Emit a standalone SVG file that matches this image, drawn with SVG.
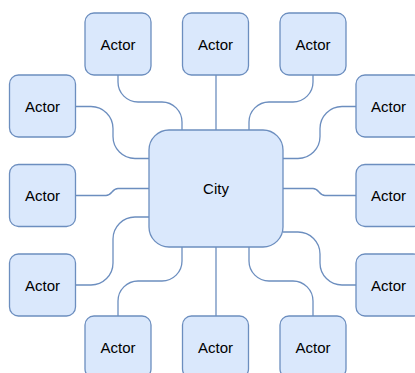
<svg xmlns="http://www.w3.org/2000/svg" width="415" height="373" viewBox="0 0 415 373">
<style>
.n{fill:#dae8fc;stroke:#6c8ebf;stroke-width:1.3}
.e{fill:none;stroke:#6c8ebf;stroke-width:1.3}
.t{font-family:"Liberation Sans",Arial,sans-serif;font-size:15px;fill:#000;text-anchor:middle;dominant-baseline:central}
</style>
<rect width="415" height="373" fill="#fff"/>
<g id="connectors">
<path class="e" d="M216,75 V130"/>
<path class="e" d="M216,247 V316"/>
<path class="e" d="M118,75 V82 A20,20 0 0 0 138,102 H162 A20,20 0 0 1 182,122 V130"/>
<path class="e" d="M313,75 V82 A20,20 0 0 1 293,102 H269 A20,20 0 0 0 249,122 V130"/>
<path class="e" d="M76,106.5 H91 A22,22 0 0 1 113,128.5 V136.5 A22,22 0 0 0 135,158.5 H149"/>
<path class="e" d="M76,195.5 H106 C112,195.5 112,188.5 118,188.5 H149"/>
<path class="e" d="M76,285 H91 A22,22 0 0 0 113,263 V239 A22,22 0 0 1 135,217 H149"/>
<path class="e" d="M118,316 V301 A20,20 0 0 1 138,281 H162 A20,20 0 0 0 182,261 V247"/>
<path class="e" d="M249,247 V261 A20,20 0 0 0 269,281 H293 A20,20 0 0 1 313,301 V316"/>
<path class="e" d="M283,232 H298 A22,22 0 0 1 320,254 V263 A22,22 0 0 0 342,285 H356"/>
<path class="e" d="M283,188.5 H313 C319,188.5 319,195.5 325,195.5 H356"/>
<path class="e" d="M283,158.5 H298 A22,22 0 0 0 320,136.5 V128.5 A22,22 0 0 1 342,106.5 H356"/>
</g>
<g id="city"><rect class="n" x="149" y="130" width="134" height="117" rx="20"/><text class="t" x="216" y="188.5">City</text></g>
<g id="actor-top-1"><rect class="n" x="85" y="13" width="66" height="62" rx="9"/><text class="t" x="118" y="44">Actor</text></g>
<g id="actor-top-2"><rect class="n" x="182.5" y="13" width="66" height="62" rx="9"/><text class="t" x="215.5" y="44">Actor</text></g>
<g id="actor-top-3"><rect class="n" x="280" y="13" width="66" height="62" rx="9"/><text class="t" x="313" y="44">Actor</text></g>
<g id="actor-left-1"><rect class="n" x="9.5" y="75" width="66" height="62" rx="9"/><text class="t" x="42.5" y="106">Actor</text></g>
<g id="actor-left-2"><rect class="n" x="9.5" y="164.5" width="66" height="62" rx="9"/><text class="t" x="42.5" y="195.5">Actor</text></g>
<g id="actor-left-3"><rect class="n" x="9.5" y="254" width="66" height="62" rx="9"/><text class="t" x="42.5" y="285">Actor</text></g>
<g id="actor-right-1"><rect class="n" x="356" y="75" width="66" height="62" rx="9"/><text class="t" x="388.5" y="106">Actor</text></g>
<g id="actor-right-2"><rect class="n" x="356" y="164.5" width="66" height="62" rx="9"/><text class="t" x="388.5" y="195.5">Actor</text></g>
<g id="actor-right-3"><rect class="n" x="356" y="254" width="66" height="62" rx="9"/><text class="t" x="388.5" y="285">Actor</text></g>
<g id="actor-bottom-1"><rect class="n" x="85" y="316" width="66" height="62" rx="9"/><text class="t" x="118" y="347">Actor</text></g>
<g id="actor-bottom-2"><rect class="n" x="182.5" y="316" width="66" height="62" rx="9"/><text class="t" x="215.5" y="347">Actor</text></g>
<g id="actor-bottom-3"><rect class="n" x="280" y="316" width="66" height="62" rx="9"/><text class="t" x="313" y="347">Actor</text></g>
</svg>
